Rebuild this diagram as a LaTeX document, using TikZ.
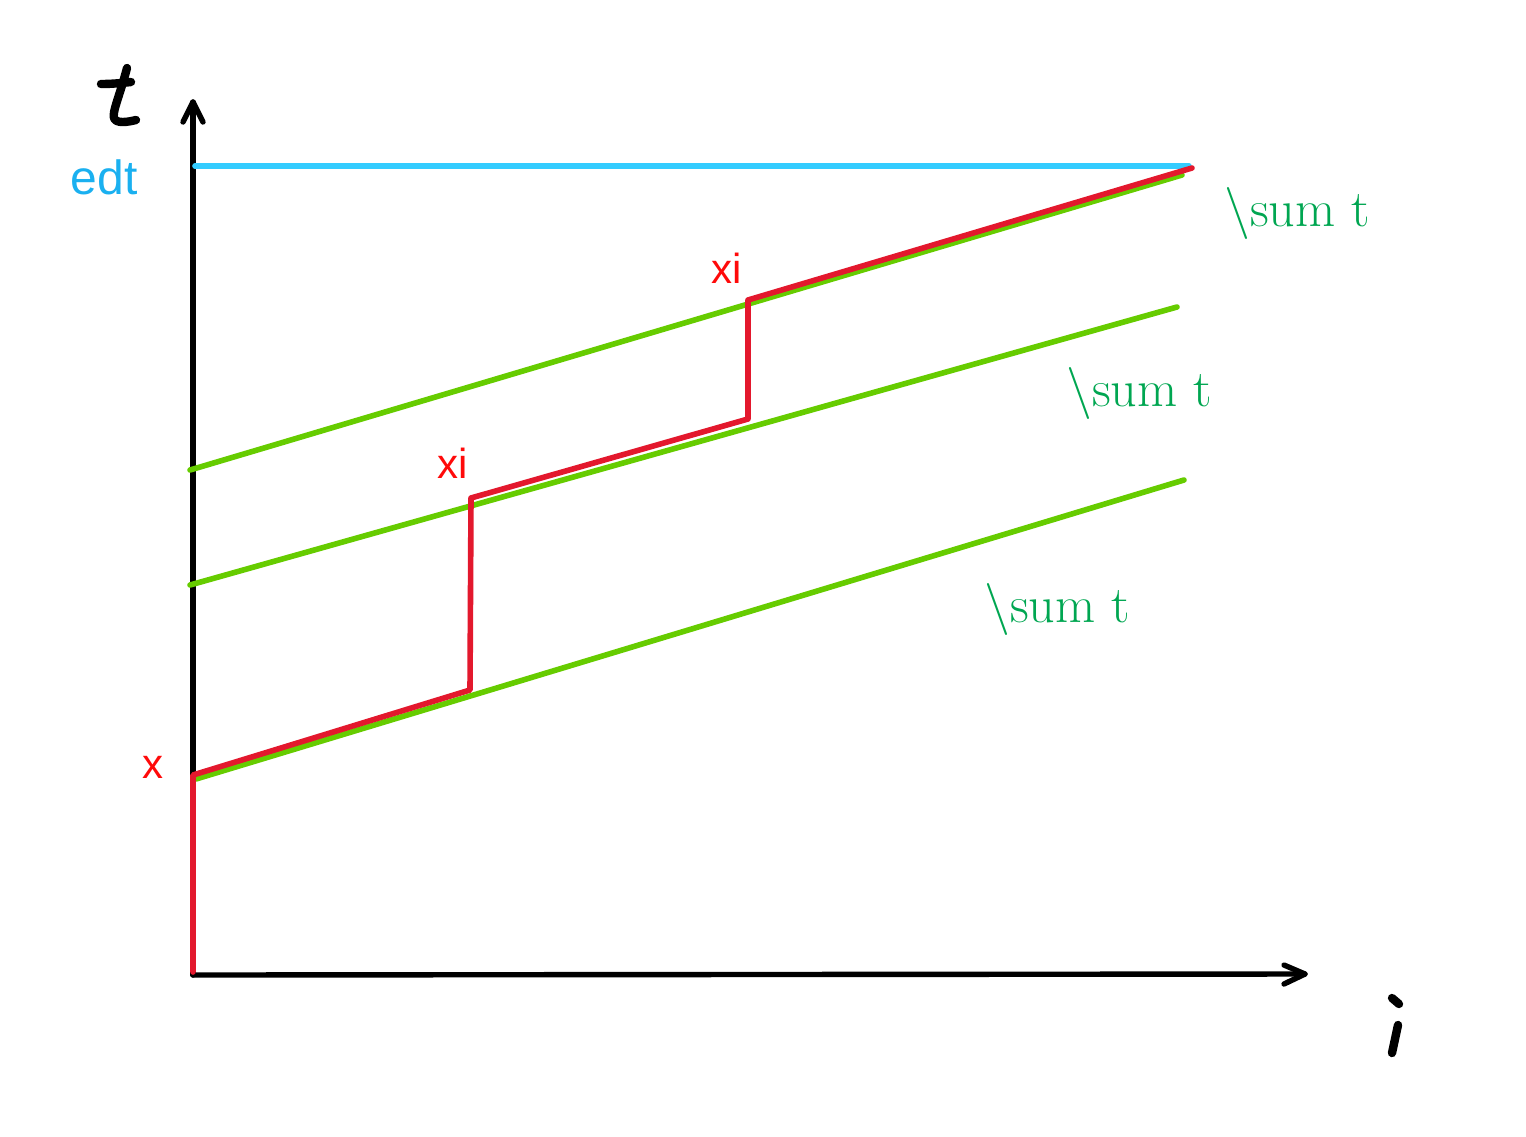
\documentclass[tikz,border=0pt]{standalone}
\usepackage{fontspec}
\setsansfont{Liberation Sans}
\begin{document}
\begin{tikzpicture}[x=0.5pt,y=-0.5pt,
  axis/.style={line width=2.7pt,black,line cap=round,line join=round},
  hand/.style={line width=4.2pt,black,line cap=round,line join=round},
  redl/.style={line width=2.8pt,color=lred,line cap=round,line join=round},
  greenl/.style={line width=2.8pt,color=lgreen,line cap=round},
  bluel/.style={line width=2.8pt,color=lblue,line cap=round},
  redlab/.style={text=tred,font=\sffamily\fontsize{21}{21}\selectfont,inner sep=0pt},
  sumlab/.style={text=tgreen,font=\fontsize{26}{26}\selectfont,inner sep=0pt},
  bluelab/.style={text=tblue,font=\sffamily\fontsize{24}{24}\selectfont,inner sep=0pt}]
\definecolor{lred}{HTML}{E3182D}
\definecolor{tred}{HTML}{FF0A0A}
\definecolor{lgreen}{HTML}{66CC00}
\definecolor{tgreen}{HTML}{00A651}
\definecolor{lblue}{HTML}{33CCFF}
\definecolor{tblue}{HTML}{1AB0F0}
\useasboundingbox (0,0) rectangle (1526,1136);
% axes
\coordinate (O) at (193,975);
\coordinate (Ytip) at (193,102);
\coordinate (Xtip) at (1305,974);
\draw[axis] (O) -- (Ytip);
\draw[axis] (183,122) -- (Ytip) -- (203,122);
\draw[axis] (O) -- (Xtip);
\draw[axis] (1284,965) -- (Xtip) -- (1284,984);
% hand-drawn t
\draw[hand] (127,68) .. controls (120,95) and (112,112) .. (114,118) .. controls (116,124) and (128,122) .. (136,120);
\draw[hand] (101,84) .. controls (112,84) and (122,83) .. (131,82);
% hand-drawn i
\draw[hand] (1392,998) -- (1399,1004);
\draw[hand] (1398,1025) -- (1392,1053);
% blue line
\coordinate (B1) at (195,166);
\coordinate (B2) at (1189,166);
\draw[bluel] (B1) -- (B2);
\node[bluelab] (edt) at (104,177) {edt};
% green lines
\coordinate (G1a) at (190,470);
\coordinate (G1b) at (1182,175);
\coordinate (G2a) at (190,585);
\coordinate (G2b) at (1177,307);
\coordinate (G3a) at (196,779);
\coordinate (G3b) at (1184,480);
\draw[greenl] (G1a) -- (G1b);
\draw[greenl] (G2a) -- (G2b);
\draw[greenl] (G3a) -- (G3b);
% red path
\coordinate (R0) at (193,972);
\coordinate (R1) at (193,775);
\coordinate (R2) at (470,690);
\coordinate (R3) at (471,498);
\coordinate (R4) at (748,419);
\coordinate (R5) at (748,300);
\coordinate (R6) at (1192,168);
\draw[redl] (R0) -- (R1) -- (R2) -- (R3) -- (R4) -- (R5) -- (R6);
% labels
\node[redlab] (lx) at (153,767) {x};
\node[redlab] (lxi1) at (453,463) {xi};
\node[redlab] (lxi2) at (727,268) {xi};
\node[sumlab] (s1) at (1297,213) {\textbackslash sum t};
\node[sumlab] (s2) at (1139,393) {\textbackslash sum t};
\node[sumlab] (s3) at (1057,609) {\textbackslash sum t};
\end{tikzpicture}
\end{document}
